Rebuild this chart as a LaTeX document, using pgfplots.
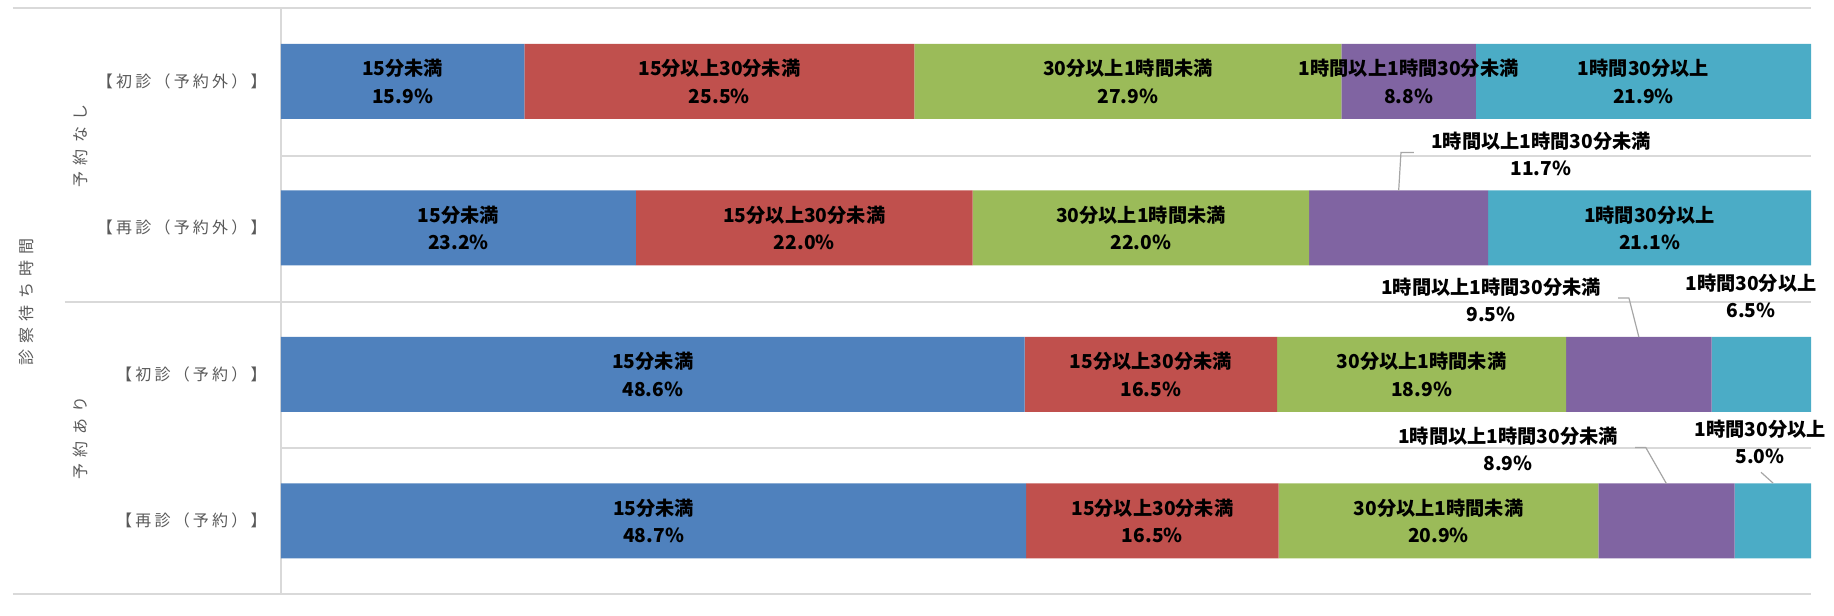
\documentclass[border=0pt]{standalone}
\usepackage{fontspec}
\usepackage{pgfplots}
\pgfplotsset{compat=1.18}
\setmainfont{Noto Sans CJK JP}
\newfontfamily\jpfont{Noto Sans CJK JP}
\newfontfamily\catfont[LetterSpace=20]{Noto Sans CJK JP}
\newfontfamily\grpfont[LetterSpace=38]{Noto Sans CJK JP}
\definecolor{cA}{HTML}{4F81BD}
\definecolor{cB}{HTML}{C0504D}
\definecolor{cC}{HTML}{9BBB59}
\definecolor{cD}{HTML}{8064A2}
\definecolor{cE}{HTML}{4BACC6}
\definecolor{gridc}{HTML}{D9D9D9}
\definecolor{txtg}{HTML}{595959}
\definecolor{leadc}{HTML}{A6A6A6}
\begin{document}
\begin{tikzpicture}[x=1pt,y=1pt]
\path[use as bounding box] (-140.5,-10.5) rectangle (776.5,297);
% frame and separators
\draw[gridc, line width=0.8pt] (-134,293) -- (765,293);
\draw[gridc, line width=0.8pt] (-134,0) -- (765,0);
\draw[gridc, line width=0.8pt] (0,0) -- (0,293);
\draw[gridc, line width=0.8pt] (-108,146) -- (765,146);
\draw[gridc, line width=0.8pt] (0,219) -- (765,219);
\draw[gridc, line width=0.8pt] (0,73) -- (765,73);
\node[rotate=90, text=txtg, font=\grpfont\fontsize{8}{9}\selectfont] at (-127.5,146) {診察待ち時間};
\node[rotate=90, text=txtg, font=\grpfont\fontsize{8}{9}\selectfont] at (-100.5,224) {予約なし};
\node[rotate=90, text=txtg, font=\grpfont\fontsize{8}{9}\selectfont] at (-100.5,78) {予約あり};
\begin{axis}[
  at={(0,0)}, anchor=south west, scale only axis,
  width=765pt, height=293pt,
  xbar stacked, bar width=37.5pt,
  xmin=0, xmax=100, ymin=-0.5, ymax=3.5, y dir=reverse,
  axis line style={draw=none}, tick style={draw=none},
  xtick=\empty,
  ytick={0,1,2,3},
  yticklabels={{【初診（予約外）】},{【再診（予約外）】},{【初診（予約）】},{【再診（予約）】}},
  yticklabel style={anchor=east, inner sep=0pt, text=txtg, font=\catfont\fontsize{8}{9}\selectfont, xshift=-7pt},
  clip=false,
]
\addplot[fill=cA, draw=none] coordinates {(15.9,0) (23.2,1) (48.6,2) (48.7,3)};
\addplot[fill=cB, draw=none] coordinates {(25.5,0) (22.0,1) (16.5,2) (16.5,3)};
\addplot[fill=cC, draw=none] coordinates {(27.9,0) (22.0,1) (18.9,2) (20.9,3)};
\addplot[fill=cD, draw=none] coordinates {(8.8,0) (11.7,1) (9.5,2) (8.9,3)};
\addplot[fill=cE, draw=none] coordinates {(21.9,0) (21.1,1) (6.5,2) (5.0,3)};
% label anchors
\coordinate (a0) at (axis cs:7.95,0);
\coordinate (b0) at (axis cs:28.65,0);
\coordinate (c0) at (axis cs:55.35,0);
\coordinate (d0) at (axis cs:73.7,0);
\coordinate (e0) at (axis cs:89.05,0);
\coordinate (a1) at (axis cs:11.6,1);
\coordinate (b1) at (axis cs:34.2,1);
\coordinate (c1) at (axis cs:56.2,1);
\coordinate (d1) at (axis cs:82.35,0.497);
\coordinate (e1) at (axis cs:89.45,1);
\coordinate (d1p) at (axis cs:73.05,0.7466);
\coordinate (d1q) at (axis cs:73.2,0.486);
\coordinate (d1r) at (axis cs:74.05,0.486);
\coordinate (a2) at (axis cs:24.3,2);
\coordinate (b2) at (axis cs:56.85,2);
\coordinate (c2) at (axis cs:74.55,2);
\coordinate (d2) at (axis cs:79.08,1.493);
\coordinate (e2) at (axis cs:96.08,1.466);
\coordinate (d2p) at (axis cs:88.75,1.7466);
\coordinate (d2q) at (axis cs:88.1,1.48);
\coordinate (d2r) at (axis cs:87.4,1.48);
\coordinate (a3) at (axis cs:24.35,3);
\coordinate (b3) at (axis cs:56.95,3);
\coordinate (c3) at (axis cs:75.65,3);
\coordinate (d3) at (axis cs:80.2,2.51);
\coordinate (e3) at (axis cs:96.67,2.463);
\coordinate (d3p) at (axis cs:90.55,2.7466);
\coordinate (d3q) at (axis cs:89.2,2.5);
\coordinate (d3r) at (axis cs:88.5,2.5);
\coordinate (e3p) at (axis cs:97.52,2.743);
\coordinate (e3q) at (axis cs:96.73,2.669);
\end{axis}
\tikzset{lab/.style={font=\jpfont\bfseries\fontsize{9.6}{13.8}\selectfont, align=center, inner sep=0pt}}
\node[lab] at (a0) {15分未満\\15.9\%};
\node[lab] at (b0) {15分以上30分未満\\25.5\%};
\node[lab] at (c0) {30分以上1時間未満\\27.9\%};
\node[lab] at (d0) {1時間以上1時間30分未満\\8.8\%};
\node[lab] at (e0) {1時間30分以上\\21.9\%};
\node[lab] at (a1) {15分未満\\23.2\%};
\node[lab] at (b1) {15分以上30分未満\\22.0\%};
\node[lab] at (c1) {30分以上1時間未満\\22.0\%};
\node[lab] at (d1) {1時間以上1時間30分未満\\11.7\%};
\node[lab] at (e1) {1時間30分以上\\21.1\%};
\draw[leadc, line width=0.6pt] (d1p) -- (d1q) -- (d1r);
\node[lab] at (a2) {15分未満\\48.6\%};
\node[lab] at (b2) {15分以上30分未満\\16.5\%};
\node[lab] at (c2) {30分以上1時間未満\\18.9\%};
\node[lab] at (d2) {1時間以上1時間30分未満\\9.5\%};
\node[lab] at (e2) {1時間30分以上\\6.5\%};
\draw[leadc, line width=0.6pt] (d2p) -- (d2q) -- (d2r);
\node[lab] at (a3) {15分未満\\48.7\%};
\node[lab] at (b3) {15分以上30分未満\\16.5\%};
\node[lab] at (c3) {30分以上1時間未満\\20.9\%};
\node[lab] at (d3) {1時間以上1時間30分未満\\8.9\%};
\node[lab] at (e3) {1時間30分以上\\5.0\%};
\draw[leadc, line width=0.6pt] (d3p) -- (d3q) -- (d3r);
\draw[leadc, line width=0.6pt] (e3p) -- (e3q);
\end{tikzpicture}
\end{document}
